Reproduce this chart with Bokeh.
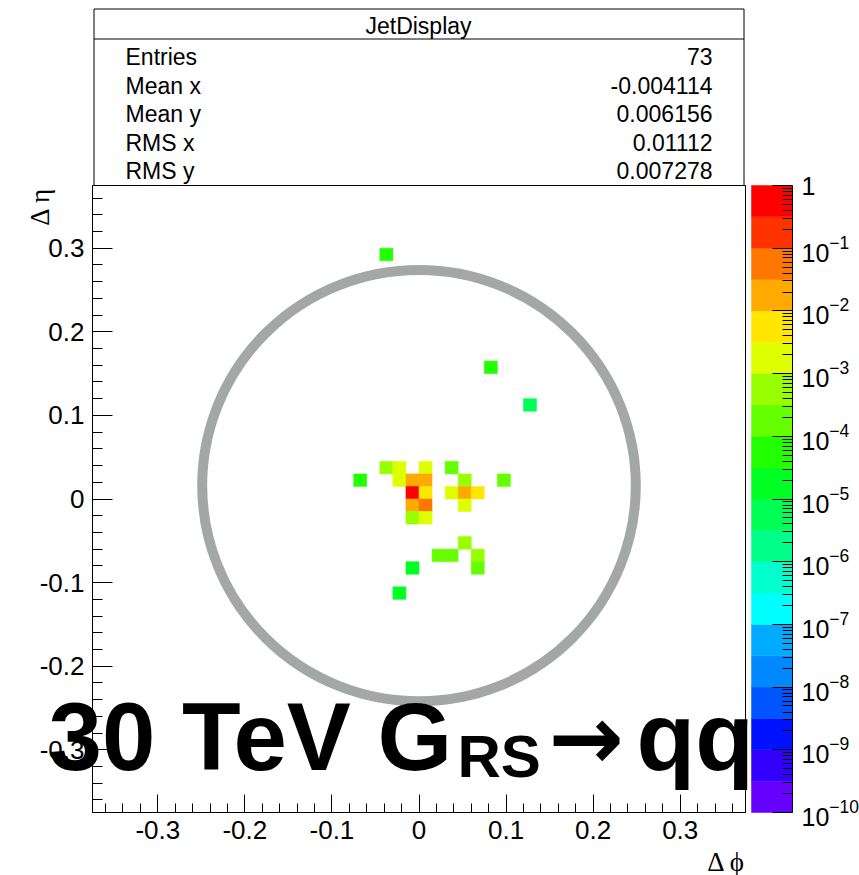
import numpy as np
from bokeh.plotting import figure
from bokeh.models import (Range1d, FixedTicker, CustomJSTickFormatter, LogColorMapper,
                          LinearAxis, LogAxis, LogScale, LogTickFormatter, ColumnDataSource)
from bokeh.core.properties import value
from bokeh.embed import file_html
from bokeh.resources import INLINE

# ---- histogram contents: fraction of jet energy per (dphi, deta) cell ----
cell_dphi = [-0.0375, 0.0825, 0.1275,
             -0.0375, -0.0225, 0.0075, 0.0375,
             -0.0675, -0.0225, -0.0075, 0.0075, 0.0525, 0.0975,
             -0.0075, 0.0075, 0.0375, 0.0525, 0.0675,
             -0.0075, 0.0075, 0.0525,
             -0.0075, 0.0075,
             0.0525,
             0.0225, 0.0375, 0.0675,
             -0.0075, 0.0675,
             -0.0225]
cell_deta = [0.2925, 0.1575, 0.1125,
             0.0375, 0.0375, 0.0375, 0.0375,
             0.0225, 0.0225, 0.0225, 0.0225, 0.0225, 0.0225,
             0.0075, 0.0075, 0.0075, 0.0075, 0.0075,
             -0.0075, -0.0075, -0.0075,
             -0.0225, -0.0225,
             -0.0525,
             -0.0675, -0.0675, -0.0675,
             -0.0825, -0.0825,
             -0.1125]
cell_frac = [6.0e-5, 5.2e-5, 5.5e-6,
             5.8e-4, 1.9e-3, 1.7e-3, 1.8e-4,
             5.4e-5, 2.0e-3, 1.8e-2, 1.9e-2, 5.6e-4, 1.7e-4,
             0.52, 5.8e-3, 1.8e-3, 1.6e-2, 5.2e-3,
             1.7e-2, 5.5e-2, 1.9e-3,
             5.3e-4, 1.8e-3,
             5.6e-4,
             1.8e-4, 1.7e-4, 5.4e-4,
             1.8e-5, 1.9e-4,
             1.7e-5]
bin_width = 0.015

# jet cone drawn around the jet axis
cone_phi = 0.0
cone_eta = 0.016
cone_r_phi = 0.249
cone_r_eta = 0.258

axis_ticks = [-0.3, -0.2, -0.1, 0.0, 0.1, 0.2, 0.3]

stat_title = "JetDisplay"
stat_names = ["Entries", "Mean x", "Mean y", "RMS x", "RMS y"]
stat_values = ["73", "-0.004114", "0.006156", "0.01112", "0.007278"]

# 20 contour colours, lowest (1e-10) to highest (1)
palette = ["#6600ff", "#3300ff", "#0011ff", "#0055ff", "#0088ff",
           "#00aaff", "#00ffff", "#00ffcc", "#00ff88", "#00ff55",
           "#00ff22", "#22ff00", "#66ff00", "#99ff00", "#ddff00",
           "#ffe600", "#ffaa00", "#ff7700", "#ff3300", "#ff0000"]
z_low, z_high = 1e-10, 1.0

FONT = "Liberation Sans"
SERIF = "Liberation Serif"

# ---- page geometry (pixels) ----
W, H = 859, 875
FR_L, FR_R = 92, 745          # histogram frame on the page
FR_T, FR_B = 185, 812
CB_L, CB_R = 751, 792         # colour scale bar
XR = (-0.375, 0.375)
YR = (-0.375, 0.375)


def px2x(px):
    return XR[0] + (px - FR_L) * (XR[1] - XR[0]) / (FR_R - FR_L)


def py2y(py):
    return YR[1] - (py - FR_T) * (YR[1] - YR[0]) / (FR_B - FR_T)


# log10 range of the colour scale stretched over the whole page height
dec_per_px = (np.log10(z_high) - np.log10(z_low)) / (FR_B - FR_T)
cb_range = Range1d(10 ** (np.log10(z_low) - (H - FR_B) * dec_per_px),
                   10 ** (np.log10(z_high) + FR_T * dec_per_px))

p = figure(width=W, height=H, x_range=Range1d(px2x(0), px2x(W)),
           y_range=Range1d(py2y(H), py2y(0)),
           x_axis_location=None, y_axis_location=None,
           extra_y_ranges={"cb": cb_range}, extra_y_scales={"cb": LogScale()},
           output_backend="svg", toolbar_location=None, min_border=0)
p.outline_line_color = None
p.grid.visible = False
p.background_fill_color = "white"
p.border_fill_color = "white"

# ---- statistics box ----
sb_l, sb_r, sb_t, sb_sep = px2x(93.5), px2x(743.5), py2y(8.5), py2y(38.5)
p.multi_line(xs=[[sb_l, sb_l, sb_r, sb_r], [sb_l, sb_r]],
             ys=[[YR[1], sb_t, sb_t, YR[1]], [sb_sep, sb_sep]],
             line_color="black", line_width=1)
p.text(x=[px2x(418)], y=[py2y(25)], text=[stat_title], text_font=value(FONT),
       text_font_size="23px", text_align="center", text_baseline="middle",
       text_color="black")
row_mid = [py2y(v) for v in (56, 85, 113, 142, 170)]
p.text(x=[px2x(125)] * 5, y=row_mid, text=stat_names, text_font=value(FONT),
       text_font_size="23px", text_align="left", text_baseline="middle",
       text_color="black")
p.text(x=[px2x(712)] * 5, y=row_mid, text=stat_values, text_font=value(FONT),
       text_font_size="23px", text_align="right", text_baseline="middle",
       text_color="black")

# ---- histogram frame and axes ----
p.quad(left=[XR[0]], right=[XR[1]], bottom=[YR[0]], top=[YR[1]],
       fill_color=None, line_color="black", line_width=1)

minor = [round(-0.36 + 0.02 * i, 2) for i in range(37)]
minor = [m for m in minor if abs(m * 10 - round(m * 10)) > 1e-6]
tick_fmt = CustomJSTickFormatter(code="return Math.abs(tick) < 1e-9 ? '0' : tick.toFixed(1);")

xax = LinearAxis(fixed_location=YR[0], bounds=XR)
yax = LinearAxis(fixed_location=XR[0], bounds=YR)
for ax, tin in ((xax, 18), (yax, 20)):
    ax.ticker = FixedTicker(ticks=axis_ticks, minor_ticks=minor)
    ax.formatter = tick_fmt
    ax.major_tick_in = tin
    ax.major_tick_out = 0
    ax.minor_tick_in = tin // 2
    ax.minor_tick_out = 0
    ax.major_tick_line_color = "black"
    ax.minor_tick_line_color = "black"
    ax.axis_line_color = "black"
    ax.major_label_text_font = FONT
    ax.major_label_text_font_size = "26px"
    ax.major_label_text_color = "black"
    ax.major_label_standoff = 8
p.add_layout(xax, "below")
p.add_layout(yax, "left")

# ---- jet cone and energy cells ----
mapper = LogColorMapper(palette=palette, low=z_low, high=z_high)
cells = ColumnDataSource(dict(dphi=cell_dphi, deta=cell_deta, frac=cell_frac))

p.ellipse(x=[cone_phi], y=[cone_eta], width=[2 * cone_r_phi], height=[2 * cone_r_eta],
          fill_color=None, line_color="#a3a8a6", line_width=10)
p.rect(x="dphi", y="deta", width=bin_width, height=bin_width, source=cells,
       fill_color={"field": "frac", "transform": mapper},
       line_color={"field": "frac", "transform": mapper}, line_width=0.5)

# axis titles
p.text(x=[px2x(39)], y=[py2y(187)], text=["Δ η"], angle=np.pi / 2,
       text_font=value(SERIF), text_font_size="27px", text_align="right",
       text_baseline="middle", text_color="black")
p.text(x=[px2x(745)], y=[py2y(861)], text=["Δ ϕ"],
       text_font=value(SERIF), text_font_size="27px", text_align="right",
       text_baseline="middle", text_color="black")

# process caption
cap = dict(text_font=value(FONT), text_font_style="bold", text_color="black",
           text_baseline="middle", text_align="left")
p.text(x=[px2x(48)], y=[py2y(736)], text=["30 TeV G"], text_font_size="96px", **cap)
p.text(x=[px2x(457)], y=[py2y(756)], text=["RS"], text_font_size="60px", **cap)
p.text(x=[px2x(548)], y=[py2y(737)], text=["→"], text_font=value("DejaVu Sans"),
       text_font_style="bold", text_color="black", text_baseline="middle",
       text_align="left", text_font_size="90px")
p.text(x=[px2x(636)], y=[py2y(736)], text=["qq"], text_font_size="96px", **cap)

# ---- colour scale ----
band_exp = np.arange(np.log10(z_low), np.log10(z_high), 0.5)
p.quad(left=px2x(CB_L), right=px2x(CB_R), bottom=10 ** band_exp, top=10 ** (band_exp + 0.5),
       y_range_name="cb", fill_color=palette, line_color=palette, line_width=0.5)

decades = [10.0 ** k for k in range(-10, 1)]
cbar_minor = [m * 10.0 ** k for k in range(-10, 0) for m in range(2, 10)]
cax = LogAxis(y_range_name="cb", fixed_location=px2x(CB_R), bounds=(z_low, z_high))
cax.ticker = FixedTicker(ticks=decades, minor_ticks=cbar_minor)
cax.formatter = LogTickFormatter()
cax.major_label_overrides = {1: "1"}
cax.major_tick_in = 20
cax.major_tick_out = 0
cax.minor_tick_in = 10
cax.minor_tick_out = 0
cax.major_tick_line_color = "black"
cax.minor_tick_line_color = "black"
cax.axis_line_color = "black"
cax.major_label_text_font = FONT
cax.major_label_text_font_size = "25px"
cax.major_label_text_color = "black"
cax.major_label_standoff = 9
p.add_layout(cax, "right")

open("out.html", "w").write(file_html(p, INLINE))
